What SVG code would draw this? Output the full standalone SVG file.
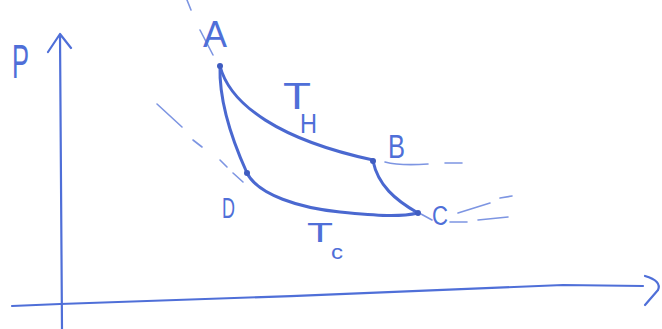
<svg xmlns="http://www.w3.org/2000/svg" width="662" height="329" viewBox="0 0 662 329">
<style>
.ax{fill:none;stroke:#4f6fd8;stroke-width:2.2;stroke-linecap:round;stroke-linejoin:round}
.cv{fill:none;stroke:#4a68d0;stroke-width:3;stroke-linecap:round}
.ds{fill:none;stroke:#7d95e2;stroke-width:1.6;stroke-linecap:round}
.lb{font-family:"Liberation Sans",Arial,sans-serif;fill:#4f6fd8}
.pt{fill:#3f5cc0}
</style>
<rect width="662" height="329" fill="#ffffff"/>
<g id="axes">
<path class="ax" d="M62,329 L60,34 M48,52 L60,34 L71,48"/>
<path class="ax" d="M12,306 L60,304 C200,300 450,290 563,285 L643,286"/>
<path class="ax" d="M645,276 Q662,281 658,290 L645,305"/>
<text class="lb" x="12" y="78" font-size="48" textLength="17" lengthAdjust="spacingAndGlyphs">P</text>
</g>
<g id="connectors">
<path class="cv" d="M220,66 C230,105 280,140 373,160"/>
<path class="cv" d="M220,66 C219,100 232,140 247,173"/>
<path class="cv" d="M247,173 C258,195 300,208 340,212 S400,217 418,213"/>
<path class="cv" d="M373,161 C378,185 395,200 418,213"/>
<path class="ds" d="M187,0 L191,10 M200,30 L213,55"/>
<path class="ds" d="M157,104 L182,127 M193,140 L202,147 M220,160 L227,167 M233,173 L243,182"/>
<path class="ds" d="M385,162 Q400,166 428,164 M445,163 L462,163"/>
<path class="ds" d="M458,213 L490,203 M500,198 L512,196 M450,222 L467,222 M478,220 L508,217"/>
<path class="ds" d="M421,214 L432,220"/>
</g>
<g id="node-A">
<circle class="pt" cx="220" cy="66" r="3"/>
<text class="lb" x="203" y="47" font-size="36" textLength="24" lengthAdjust="spacingAndGlyphs">A</text>
</g>
<g id="node-B">
<circle class="pt" cx="373" cy="161" r="3"/>
<text class="lb" x="388" y="158" font-size="34" textLength="17" lengthAdjust="spacingAndGlyphs">B</text>
</g>
<g id="node-C">
<circle class="pt" cx="418" cy="213" r="3"/>
<text class="lb" x="432" y="225" font-size="27" textLength="16" lengthAdjust="spacingAndGlyphs">C</text>
</g>
<g id="node-D">
<circle class="pt" cx="247" cy="173" r="3"/>
<text class="lb" x="222" y="218" font-size="29" textLength="13" lengthAdjust="spacingAndGlyphs">D</text>
</g>
<g id="label-TH">
<text class="lb" x="283" y="109" font-size="36" textLength="28" lengthAdjust="spacingAndGlyphs">T</text>
<text class="lb" x="300" y="133" font-size="27" textLength="17" lengthAdjust="spacingAndGlyphs">H</text>
</g>
<g id="label-TC">
<text class="lb" x="307" y="242" font-size="28" textLength="26" lengthAdjust="spacingAndGlyphs">T</text>
<text class="lb" x="331" y="259" font-size="20" textLength="12" lengthAdjust="spacingAndGlyphs">c</text>
</g>
</svg>
